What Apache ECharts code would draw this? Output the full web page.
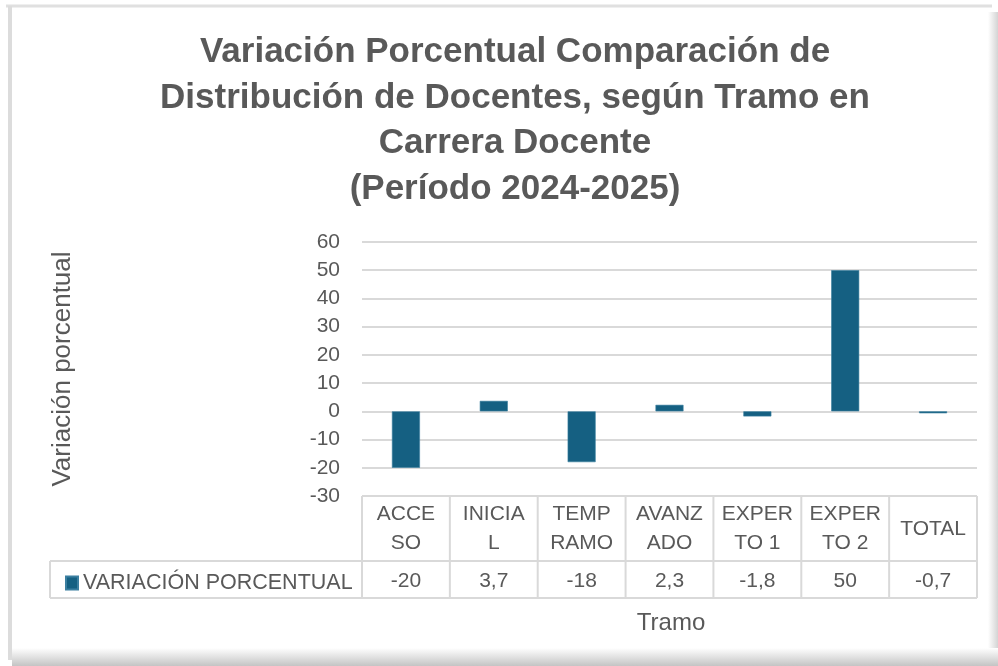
<!DOCTYPE html>
<html>
<head>
<meta charset="utf-8">
<script src="https://cdn.jsdelivr.net/npm/echarts@6/dist/echarts.min.js"></script>
<style>
html,body{margin:0;padding:0;background:#fff;}
#chart{width:998px;height:666px;}
</style>
</head>
<body>
<div id="chart"></div>
<script>
const titleLines = ["Variación Porcentual Comparación de", "Distribución de Docentes, según Tramo en", "Carrera Docente", "(Período 2024-2025)"];
const categories = ["ACCESO", "INICIAL", "TEMPRAMO", "AVANZADO", "EXPERTO 1", "EXPERTO 2", "TOTAL"];
const tickLabels = ["ACCE\nSO", "INICIA\nL", "TEMP\nRAMO", "AVANZ\nADO", "EXPER\nTO 1", "EXPER\nTO 2", "TOTAL"];
const seriesName = "VARIACIÓN PORCENTUAL";
const values = [-20, 3.7, -18, 2.3, -1.8, 50, -0.7];
const yMin = -30, yMax = 60, yStep = 10;
const yAxisTitle = "Variación porcentual";
const xAxisTitle = "Tramo";

const valueLabels = values.map(v => String(v).replace('.', ','));
const barColor = '#156082';
const textColor = '#595959';
const gridColor = '#d9d9d9';
const FONT = '"Liberation Sans", Arial, sans-serif';

const chart = echarts.init(document.getElementById('chart'), null, {renderer: 'canvas'});

const option = {
  animation: false,
  backgroundColor: '#ffffff',
  title: {
    text: titleLines.join('\n'),
    left: 510,
    top: 25,
    textAlign: 'center',
    textStyle: {fontFamily: FONT, fontSize: 35, fontWeight: 'bold', color: textColor, lineHeight: 45.5}
  },
  legend: {
    left: 60, top: 567,
    itemWidth: 12, itemHeight: 13, itemGap: 0,
    icon: 'rect',
    data: [seriesName],
    textStyle: {fontFamily: FONT, fontSize: 21.5, color: textColor, padding: [0, 0, 0, 0]}
  },
  grid: {left: 362, right: 21, top: 242, bottom: 170, containLabel: false},
  xAxis: [
    {
      type: 'category',
      data: categories,
      position: 'bottom',
      axisLine: {show: false},
      axisTick: {show: false},
      axisLabel: {
        interval: 0,
        margin: 33,
        verticalAlign: 'middle',
        formatter: (v, i) => tickLabels[i],
        fontFamily: FONT, fontSize: 21, color: textColor, lineHeight: 29
      }
    },
    {
      type: 'category',
      data: valueLabels,
      position: 'bottom',
      offset: 85,
      axisLine: {show: false},
      axisTick: {show: false},
      axisLabel: {interval: 0, margin: 0, verticalAlign: 'middle', fontFamily: FONT, fontSize: 21, color: textColor},
      name: xAxisTitle,
      nameLocation: 'middle',
      nameGap: 42,
      nameTextStyle: {fontFamily: FONT, fontSize: 24, color: textColor, verticalAlign: 'middle', padding: [0, 0, 0, 3]}
    }
  ],
  yAxis: {
    type: 'value',
    min: yMin, max: yMax, interval: yStep,
    axisLine: {show: false},
    axisTick: {show: false},
    axisLabel: {fontFamily: FONT, fontSize: 21, color: textColor, margin: 22},
    splitLine: {lineStyle: {color: gridColor, width: 2}},
    name: yAxisTitle,
    nameLocation: 'middle',
    nameGap: 286,
    nameTextStyle: {fontFamily: FONT, fontSize: 26, color: textColor, padding: [0, 0, 0, 0]}
  },
  series: [{
    name: seriesName,
    type: 'bar',
    data: values,
    barWidth: 28,
    itemStyle: {color: barColor, borderColor: '#3b7fa0', borderWidth: 0.6}
  }]
};
chart.setOption(option);

// table lines derived from axis positions
function buildTable() {
  const c0 = chart.convertToPixel({xAxisIndex: 0}, 0);
  const c1 = chart.convertToPixel({xAxisIndex: 0}, 1);
  const band = c1 - c0;
  const top = chart.convertToPixel({yAxisIndex: 0}, yMin);
  const headBottom = top + 65;
  const rowBottom = headBottom + 37;
  const leftX = c0 - band / 2;
  const rightX = leftX + band * categories.length;
  const lineStyle = {stroke: gridColor, lineWidth: 2};
  const els = [];
  for (let i = 0; i <= categories.length; i++) {
    const x = leftX + band * i;
    els.push({type: 'line', shape: {x1: x, y1: top, x2: x, y2: rowBottom}, style: lineStyle, z: 5});
  }
  els.push({type: 'line', shape: {x1: 50, y1: headBottom, x2: rightX, y2: headBottom}, style: lineStyle, z: 5});
  els.push({type: 'line', shape: {x1: 50, y1: rowBottom, x2: rightX, y2: rowBottom}, style: lineStyle, z: 5});
  els.push({type: 'line', shape: {x1: 50, y1: headBottom, x2: 50, y2: rowBottom}, style: lineStyle, z: 5});
  // frame
  els.push({type: 'rect', shape: {x: 0, y: 0, width: 998, height: 666}, style: {fill: '#ffffff'}, z: -20, silent: true});
  els.push({type: 'line', shape: {x1: 6, y1: 6, x2: 992, y2: 6}, style: {stroke: '#e0e0e0', lineWidth: 3}, z: -10});
  els.push({type: 'line', shape: {x1: 10, y1: 6, x2: 10, y2: 660}, style: {stroke: '#dcdcdc', lineWidth: 4}, z: -10});
  els.push({type: 'rect', shape: {x: 988, y: 12, width: 10, height: 654}, style: {fill: new echarts.graphic.LinearGradient(0, 0, 1, 0, [{offset: 0, color: '#ffffff'}, {offset: 1, color: '#d4d4d4'}])}, z: -10});
  els.push({type: 'rect', shape: {x: 12, y: 648, width: 986, height: 18}, style: {fill: new echarts.graphic.LinearGradient(0, 0, 0, 1, [{offset: 0, color: '#ffffff'}, {offset: 1, color: '#c4c4c4'}])}, z: -10});
  chart.setOption({graphic: els});
}
buildTable();
</script>
</body>
</html>
